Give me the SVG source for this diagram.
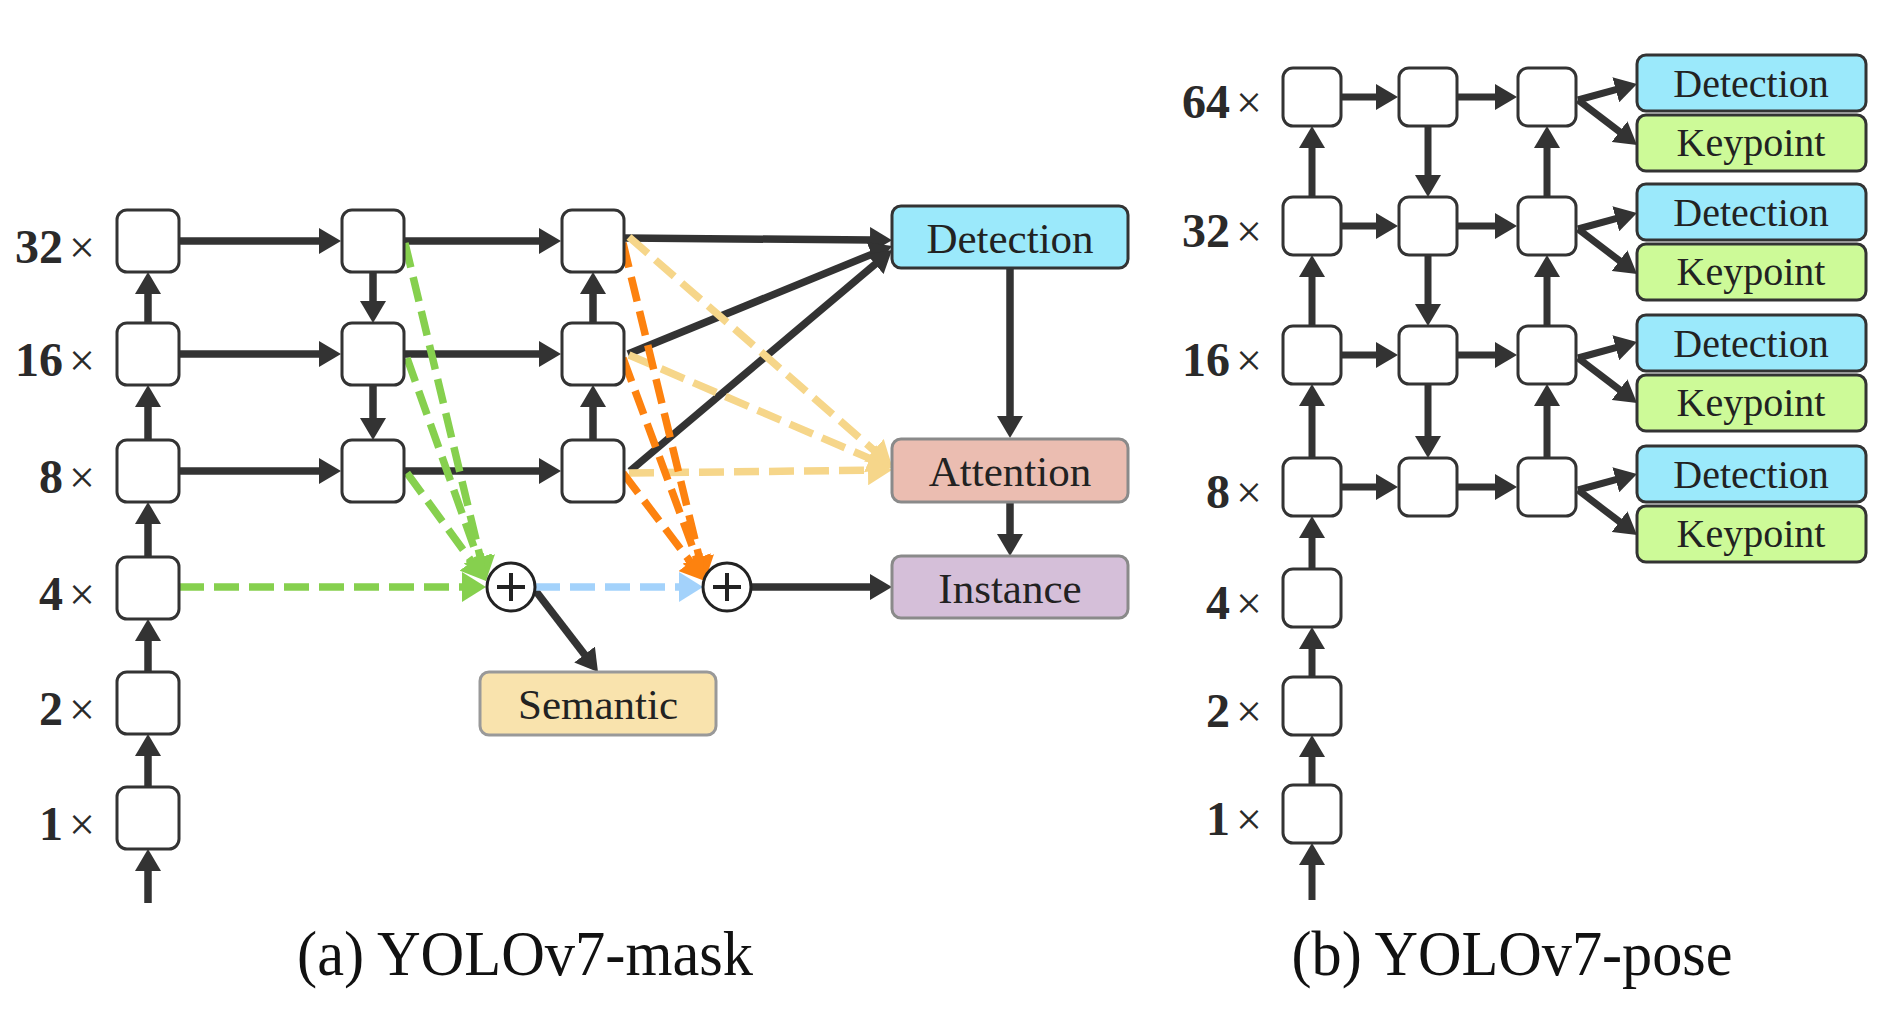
<svg xmlns="http://www.w3.org/2000/svg" width="1879" height="1011" viewBox="0 0 1879 1011">
<style>
.blk{fill:#fff;stroke:#333;stroke-width:3}
.lbl{font-family:"Liberation Serif","Times New Roman",serif;font-size:46px;fill:#2a2a2a;text-anchor:end}
.num{font-weight:bold;font-size:48px}
.bt{font-family:"Liberation Serif","Times New Roman",serif;font-size:43px;fill:#222;text-anchor:middle}
.bts{font-family:"Liberation Serif","Times New Roman",serif;font-size:40px;fill:#222;text-anchor:middle}
.cap{font-family:"Liberation Serif","Times New Roman",serif;font-size:64px;fill:#111;text-anchor:middle}
.ln{stroke:#333;stroke-width:7.5;fill:none;marker-end:url(#ah)}
.lnb{stroke:#333;stroke-width:7;fill:none;marker-end:url(#ah)}
.dash{stroke-width:7.5;stroke-dasharray:25 10;fill:none}
.g{stroke:#86d04e;marker-end:url(#ahg)}
.o{stroke:#fd820f;marker-end:url(#aho)}
.y{stroke:#f6d68a;marker-end:url(#ahy)}
.b{stroke:#a3d2fb;marker-end:url(#ahb)}
.det{fill:#9be9fb;stroke:#333;stroke-width:3}
.att{fill:#ebbdb1;stroke:#8a8a8a;stroke-width:3}
.ins{fill:#d5bfd9;stroke:#8a8a8a;stroke-width:3}
.sem{fill:#f9e3ad;stroke:#999;stroke-width:3}
.kp{fill:#cdfa98;stroke:#333;stroke-width:3}
.plus{fill:#fff;stroke:#222;stroke-width:3}
.pl{stroke:#222;stroke-width:4}
</style>
<defs>
<marker id="ah" markerUnits="userSpaceOnUse" markerWidth="24" markerHeight="26" refX="2" refY="13" orient="auto" viewBox="0 0 24 26"><path d="M0,0 L22,13 L0,26 z" fill="#333"/></marker>
<marker id="ahg" markerUnits="userSpaceOnUse" markerWidth="26" markerHeight="30" refX="4" refY="15" orient="auto" viewBox="0 0 26 30"><path d="M0,0 L24,15 L0,30 z" fill="#86d04e"/></marker>
<marker id="aho" markerUnits="userSpaceOnUse" markerWidth="26" markerHeight="30" refX="4" refY="15" orient="auto" viewBox="0 0 26 30"><path d="M0,0 L24,15 L0,30 z" fill="#fd820f"/></marker>
<marker id="ahy" markerUnits="userSpaceOnUse" markerWidth="26" markerHeight="30" refX="4" refY="15" orient="auto" viewBox="0 0 26 30"><path d="M0,0 L24,15 L0,30 z" fill="#f6d68a"/></marker>
<marker id="ahb" markerUnits="userSpaceOnUse" markerWidth="26" markerHeight="30" refX="4" refY="15" orient="auto" viewBox="0 0 26 30"><path d="M0,0 L24,15 L0,30 z" fill="#a3d2fb"/></marker>
</defs>
<rect width="1879" height="1011" fill="#fff"/>

<g id="connectors">
<path class="ln" d="M179,241 H321"/>
<path class="ln" d="M179,354 H321"/>
<path class="ln" d="M179,471 H321"/>
<path class="ln" d="M404,241 H541"/>
<path class="ln" d="M404,354 H541"/>
<path class="ln" d="M404,471 H541"/>
<path class="ln" d="M148,323 V292"/>
<path class="ln" d="M148,440 V405"/>
<path class="ln" d="M148,557 V522"/>
<path class="ln" d="M148,672 V639"/>
<path class="ln" d="M148,787 V754"/>
<path class="ln" d="M148,903 V869"/>
<path class="ln" d="M373,272 V303"/>
<path class="ln" d="M373,385 V420"/>
<path class="ln" d="M593,440 V405"/>
<path class="ln" d="M593,323 V292"/>
<path class="ln" d="M624,238 L872,240"/>
<path class="ln" d="M628,354 L873.5,253.6"/>
<path class="ln" d="M630,471 L876.7,262.9"/>
<path class="ln" d="M1010,268 V418"/>
<path class="ln" d="M1010,502 V536"/>
<path class="ln" d="M751,587 H872"/>
<path class="ln" d="M535,590 L585.8,656.1"/>
<path class="dash y" d="M629,237 L876.9,452.9"/>
<path class="dash y" d="M629,355 L873.6,460.1"/>
<path class="dash y" d="M629,473 L872,470.2"/>
<path class="dash o" d="M623,243 L700.3,561.6"/>
<path class="dash o" d="M623,358 L698.1,562.2"/>
<path class="dash o" d="M623,473 L692.9,565.1"/>
<path class="dash g" d="M405,243 L481.3,561.6"/>
<path class="dash g" d="M407,358 L479.3,562.1"/>
<path class="dash g" d="M407,473 L474.2,564.9"/>
<path class="dash g" d="M179,587 H466"/>
<path class="dash b" d="M535,587 H683"/>
<path class="lnb" d="M1341,97 H1378"/>
<path class="lnb" d="M1341,226 H1378"/>
<path class="lnb" d="M1341,355 H1378"/>
<path class="lnb" d="M1341,487 H1378"/>
<path class="lnb" d="M1457,97 H1497"/>
<path class="lnb" d="M1457,226 H1497"/>
<path class="lnb" d="M1457,355 H1497"/>
<path class="lnb" d="M1457,487 H1497"/>
<path class="lnb" d="M1312,197 V146"/>
<path class="lnb" d="M1312,326 V275"/>
<path class="lnb" d="M1312,458 V404"/>
<path class="lnb" d="M1312,569 V536"/>
<path class="lnb" d="M1312,677 V647"/>
<path class="lnb" d="M1312,785 V755"/>
<path class="lnb" d="M1312,900 V863"/>
<path class="lnb" d="M1428,126 V177"/>
<path class="lnb" d="M1428,255 V306"/>
<path class="lnb" d="M1428,384 V438"/>
<path class="lnb" d="M1547,458 V404"/>
<path class="lnb" d="M1547,326 V275"/>
<path class="lnb" d="M1547,197 V146"/>
<path class="lnb" d="M1578,100 L1617.7,89.2"/>
<path class="lnb" d="M1578,100 L1621.1,132.9"/>
<path class="lnb" d="M1578,229 L1617.7,218.2"/>
<path class="lnb" d="M1578,229 L1621.1,261.9"/>
<path class="lnb" d="M1578,358 L1617.7,347.2"/>
<path class="lnb" d="M1578,358 L1621.1,390.9"/>
<path class="lnb" d="M1578,490 L1617.7,479.2"/>
<path class="lnb" d="M1578,490 L1621.1,522.9"/>
</g>

<g id="a-c1-32"><rect class="blk" x="117" y="210" width="62" height="62" rx="10"/></g>
<g id="a-c1-16"><rect class="blk" x="117" y="323" width="62" height="62" rx="10"/></g>
<g id="a-c1-8"><rect class="blk" x="117" y="440" width="62" height="62" rx="10"/></g>
<g id="a-c1-4"><rect class="blk" x="117" y="557" width="62" height="62" rx="10"/></g>
<g id="a-c1-2"><rect class="blk" x="117" y="672" width="62" height="62" rx="10"/></g>
<g id="a-c1-1"><rect class="blk" x="117" y="787" width="62" height="62" rx="10"/></g>
<g id="a-c2-32"><rect class="blk" x="342" y="210" width="62" height="62" rx="10"/></g>
<g id="a-c2-16"><rect class="blk" x="342" y="323" width="62" height="62" rx="10"/></g>
<g id="a-c2-8"><rect class="blk" x="342" y="440" width="62" height="62" rx="10"/></g>
<g id="a-c3-32"><rect class="blk" x="562" y="210" width="62" height="62" rx="10"/></g>
<g id="a-c3-16"><rect class="blk" x="562" y="323" width="62" height="62" rx="10"/></g>
<g id="a-c3-8"><rect class="blk" x="562" y="440" width="62" height="62" rx="10"/></g>
<g id="a-detection"><rect class="det" x="892" y="206" width="236" height="62" rx="9"/><text class="bt" x="1010" y="253">Detection</text></g>
<g id="a-attention"><rect class="att" x="892" y="439" width="236" height="63" rx="9"/><text class="bt" x="1010" y="486">Attention</text></g>
<g id="a-instance"><rect class="ins" x="892" y="556" width="236" height="62" rx="9"/><text class="bt" x="1010" y="603">Instance</text></g>
<g id="a-semantic"><rect class="sem" x="480" y="672" width="236" height="63" rx="9"/><text class="bt" x="598" y="719">Semantic</text></g>
<g id="a-plus1"><circle class="plus" cx="511" cy="587" r="24"/><path class="pl" d="M497,587 H525 M511,573 V601"/></g>
<g id="a-plus2"><circle class="plus" cx="727" cy="587" r="24"/><path class="pl" d="M713,587 H741 M727,573 V601"/></g>
<g id="a-labels">
<text class="lbl" x="95" y="263"><tspan class="num">32</tspan><tspan dx="6">×</tspan></text>
<text class="lbl" x="95" y="376"><tspan class="num">16</tspan><tspan dx="6">×</tspan></text>
<text class="lbl" x="95" y="493"><tspan class="num">8</tspan><tspan dx="6">×</tspan></text>
<text class="lbl" x="95" y="610"><tspan class="num">4</tspan><tspan dx="6">×</tspan></text>
<text class="lbl" x="95" y="725"><tspan class="num">2</tspan><tspan dx="6">×</tspan></text>
<text class="lbl" x="95" y="840"><tspan class="num">1</tspan><tspan dx="6">×</tspan></text>
</g>
<text class="cap" x="525" y="975" textLength="456" lengthAdjust="spacingAndGlyphs">(a) YOLOv7-mask</text>

<g id="b-c1-64"><rect class="blk" x="1283" y="68" width="58" height="58" rx="10"/></g>
<g id="b-c1-32"><rect class="blk" x="1283" y="197" width="58" height="58" rx="10"/></g>
<g id="b-c1-16"><rect class="blk" x="1283" y="326" width="58" height="58" rx="10"/></g>
<g id="b-c1-8"><rect class="blk" x="1283" y="458" width="58" height="58" rx="10"/></g>
<g id="b-c1-4"><rect class="blk" x="1283" y="569" width="58" height="58" rx="10"/></g>
<g id="b-c1-2"><rect class="blk" x="1283" y="677" width="58" height="58" rx="10"/></g>
<g id="b-c1-1"><rect class="blk" x="1283" y="785" width="58" height="58" rx="10"/></g>
<g id="b-c2-64"><rect class="blk" x="1399" y="68" width="58" height="58" rx="10"/></g>
<g id="b-c2-32"><rect class="blk" x="1399" y="197" width="58" height="58" rx="10"/></g>
<g id="b-c2-16"><rect class="blk" x="1399" y="326" width="58" height="58" rx="10"/></g>
<g id="b-c2-8"><rect class="blk" x="1399" y="458" width="58" height="58" rx="10"/></g>
<g id="b-c3-64"><rect class="blk" x="1518" y="68" width="58" height="58" rx="10"/></g>
<g id="b-c3-32"><rect class="blk" x="1518" y="197" width="58" height="58" rx="10"/></g>
<g id="b-c3-16"><rect class="blk" x="1518" y="326" width="58" height="58" rx="10"/></g>
<g id="b-c3-8"><rect class="blk" x="1518" y="458" width="58" height="58" rx="10"/></g>
<g id="b-det1"><rect class="det" x="1637" y="55" width="229" height="56" rx="9"/><text class="bts" x="1751" y="97">Detection</text></g>
<g id="b-kp1"><rect class="kp" x="1637" y="115" width="229" height="56" rx="9"/><text class="bts" x="1751" y="156">Keypoint</text></g>
<g id="b-det2"><rect class="det" x="1637" y="184" width="229" height="56" rx="9"/><text class="bts" x="1751" y="226">Detection</text></g>
<g id="b-kp2"><rect class="kp" x="1637" y="244" width="229" height="56" rx="9"/><text class="bts" x="1751" y="285">Keypoint</text></g>
<g id="b-det3"><rect class="det" x="1637" y="315" width="229" height="56" rx="9"/><text class="bts" x="1751" y="357">Detection</text></g>
<g id="b-kp3"><rect class="kp" x="1637" y="375" width="229" height="56" rx="9"/><text class="bts" x="1751" y="416">Keypoint</text></g>
<g id="b-det4"><rect class="det" x="1637" y="446" width="229" height="56" rx="9"/><text class="bts" x="1751" y="488">Detection</text></g>
<g id="b-kp4"><rect class="kp" x="1637" y="506" width="229" height="56" rx="9"/><text class="bts" x="1751" y="547">Keypoint</text></g>
<g id="b-labels">
<text class="lbl" x="1262" y="118"><tspan class="num">64</tspan><tspan dx="6">×</tspan></text>
<text class="lbl" x="1262" y="247"><tspan class="num">32</tspan><tspan dx="6">×</tspan></text>
<text class="lbl" x="1262" y="376"><tspan class="num">16</tspan><tspan dx="6">×</tspan></text>
<text class="lbl" x="1262" y="508"><tspan class="num">8</tspan><tspan dx="6">×</tspan></text>
<text class="lbl" x="1262" y="619"><tspan class="num">4</tspan><tspan dx="6">×</tspan></text>
<text class="lbl" x="1262" y="727"><tspan class="num">2</tspan><tspan dx="6">×</tspan></text>
<text class="lbl" x="1262" y="835"><tspan class="num">1</tspan><tspan dx="6">×</tspan></text>
</g>
<text class="cap" x="1512" y="975" textLength="441" lengthAdjust="spacingAndGlyphs">(b) YOLOv7-pose</text>
</svg>
